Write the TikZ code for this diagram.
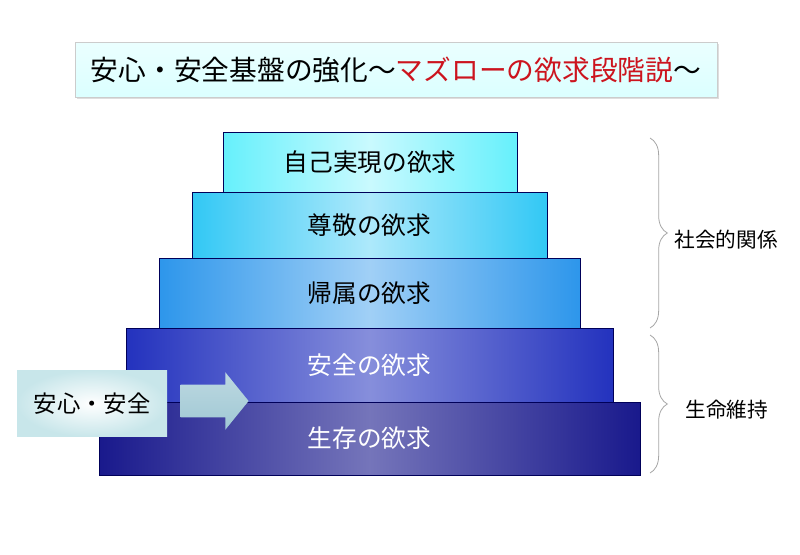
\documentclass[tikz,border=0pt]{standalone}
\usepackage{fontspec}
\setmainfont{Noto Sans CJK JP}
\usepackage{xcolor}
\usepackage{tikz}
\usetikzlibrary{shapes.arrows, decorations.pathreplacing, shadows}
\definecolor{titlered}{RGB}{204,20,30}
\definecolor{lvlA}{RGB}{102,240,252}
\definecolor{lvlB}{RGB}{50,200,245}
\definecolor{lvlC}{RGB}{45,150,235}
\definecolor{lvlD}{RGB}{35,50,190}
\definecolor{lvlE}{RGB}{25,25,140}
\definecolor{arrowgrey}{RGB}{160,200,212}
\definecolor{safebox}{RGB}{200,230,234}
\tikzset{
  level/.style   = {rectangle, draw=blue!35!black, line width=0.5pt, inner sep=0pt,
                    font=\fontsize{18.5pt}{22pt}\selectfont},
  dark/.style    = {level, text=white},
  lbl/.style     = {font=\fontsize{15.5pt}{18pt}\selectfont, inner sep=1pt},
  group/.style   = {draw=gray!70, line width=0.6pt,
                    decorate, decoration={brace, amplitude=13pt}},
}

\begin{document}
\begin{tikzpicture}[x=0.75pt, y=-0.75pt]
  \useasboundingbox[fill=white] (0,0) rectangle (800,554);

  % title
  \node[rectangle, draw=gray!40, top color=cyan!8, bottom color=cyan!14,
        drop shadow={shadow xshift=1.5pt, shadow yshift=-1.5pt, fill=gray!50},
        minimum width=481.5pt, minimum height=41pt, inner sep=0pt,
        font=\fontsize{20.8pt}{25pt}\selectfont] (title) at (396,69.5)
    {安心・安全基盤の強化～\textcolor{titlered}{マズローの欲求段階説}～};

  % pyramid, top to bottom
  \node[level, left color=lvlA, right color=lvlA, middle color=lvlA!35!white,
        minimum width=220.5pt, minimum height=45pt] (self) at (370,162) {自己実現の欲求};
  \node[level, left color=lvlB, right color=lvlB, middle color=lvlB!40!white,
        minimum width=266.25pt, minimum height=49.5pt] (esteem) at (369.5,225) {尊敬の欲求};
  \node[level, left color=lvlC, right color=lvlC, middle color=lvlC!45!white,
        minimum width=315.75pt, minimum height=52.5pt] (belong) at (369.5,293) {帰属の欲求};
  \node[dark, left color=lvlD, right color=lvlD, middle color=lvlD!55!white,
        minimum width=365.25pt, minimum height=55.5pt] (safety) at (369.5,365) {安全の欲求};
  \node[dark, left color=lvlE, right color=lvlE, middle color=lvlE!60!white,
        minimum width=405.75pt, minimum height=54.75pt] (survive) at (369.5,438.5) {生存の欲求};

  % input from the left
  \node[rectangle, inner color=white, outer color=safebox, inner sep=0pt,
        minimum width=112.5pt, minimum height=50pt,
        font=\fontsize{17.5pt}{20pt}\selectfont] (safe) at (92,403.5) {安心・安全};
  \node[single arrow, top color=arrowgrey!70!white, bottom color=arrowgrey,
        inner xsep=0pt, inner ysep=12pt, minimum height=51pt,
        single arrow head extend=9.4pt, single arrow tip angle=102] (push) at (208,401) {};

  % groups on the right
  \coordinate (socTop) at (650,138);
  \coordinate (socBot) at (650,328);
  \coordinate (lifeTop) at (650,335);
  \coordinate (lifeBot) at (650,473);
  \draw[group] (socTop) -- (socBot);
  \draw[group] (lifeTop) -- (lifeBot);
  \node[lbl, anchor=west] (social) at (673,240) {社会的関係};
  \node[lbl, anchor=west] (life) at (684,410) {生命維持};
\end{tikzpicture}
\end{document}
